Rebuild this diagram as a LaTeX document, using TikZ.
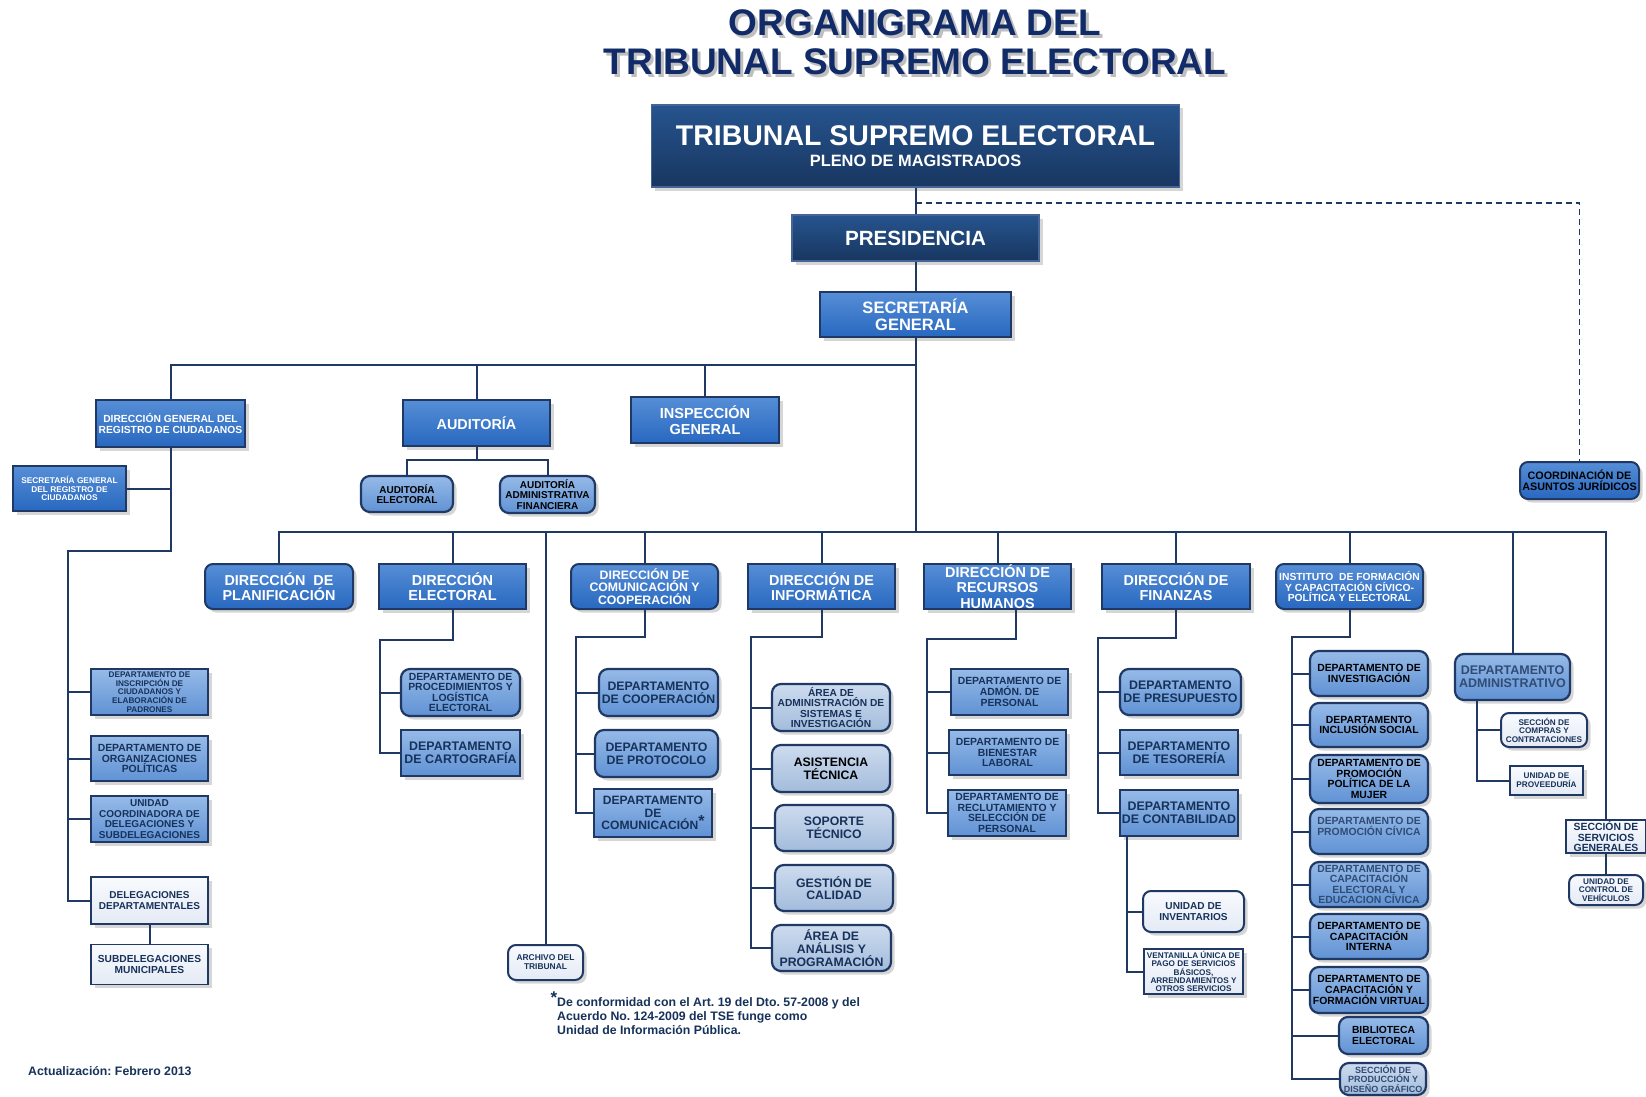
\documentclass[tikz,border=0pt]{standalone}
\usepackage{fontspec}
\setmainfont{Liberation Sans}
\usetikzlibrary{positioning,shadows,calc}
\definecolor{navyline}{RGB}{31,56,100}
\definecolor{navytext}{RGB}{23,50,90}
\definecolor{titleblue}{RGB}{17,42,104}
\definecolor{grayblue}{RGB}{48,76,116}
\definecolor{dkA}{RGB}{38,84,142}
\definecolor{dkB}{RGB}{24,54,96}
\definecolor{dkedge}{RGB}{70,100,150}
\definecolor{mdA}{RGB}{86,142,214}
\definecolor{mdB}{RGB}{40,104,192}
\definecolor{ltA}{RGB}{150,186,232}
\definecolor{ltB}{RGB}{96,146,212}
\definecolor{stA}{RGB}{205,219,238}
\definecolor{stB}{RGB}{163,188,220}
\definecolor{paleA}{RGB}{248,250,253}
\definecolor{paleB}{RGB}{228,234,245}
\newcommand{\boxfont}[2]{\fontsize{#1pt}{#2pt}\selectfont\bfseries}
\frenchspacing

\begin{document}
\begin{tikzpicture}[x=1pt, y=-1pt,
    box/.style={rectangle, inner sep=0pt, align=center, line width=1.2pt,
      draw=navyline, text=navytext,
      drop shadow={shadow xshift=3.5pt, shadow yshift=-3.5pt, fill=black!35, opacity=.45}},
    wh/.style 2 args={minimum width=#1pt, minimum height=#2pt},
    headbox/.style={box, top color=dkA, bottom color=dkB, draw=dkedge, line width=1.5pt, text=white},
    dirbox/.style={box, top color=mdA, bottom color=mdB, text=white},
    dirround/.style={dirbox, rounded corners=8pt, line width=2pt},
    deptbox/.style={box, top color=ltA, bottom color=ltB},
    deptround/.style={deptbox, rounded corners=9pt, line width=2.2pt},
    techround/.style={box, top color=stA, bottom color=stB, rounded corners=9pt, line width=2.2pt},
    palebox/.style={box, top color=paleA, bottom color=paleB},
    paleround/.style={palebox, rounded corners=8pt, line width=2pt},
    link/.style={draw=navyline, line width=2pt}]

  \path[fill=white] (0,0) rectangle (1646,1097);
  \useasboundingbox (0,0) rectangle (1646,1097);

  %% Title
  \node[font=\boxfont{37}{39}, text=black!25, align=center] (titleshadow) at (918,45.5) {ORGANIGRAMA DEL\\TRIBUNAL SUPREMO ELECTORAL};
  \node[font=\boxfont{37}{39}, text=titleblue, align=center] (title) at (915,42.5) {ORGANIGRAMA DEL\\TRIBUNAL SUPREMO ELECTORAL};

  %% Top of the tree
  \node[headbox, wh={528}{82}, font=\boxfont{28.5}{21}] (tse) at (915.5,146) {TRIBUNAL SUPREMO ELECTORAL\\{\boxfont{16.4}{21}PLENO DE MAGISTRADOS}};
  \node[headbox, wh={247}{46}, font=\boxfont{20.6}{22}] (pres) at (915.5,238) {PRESIDENCIA};
  \node[dirbox, wh={191}{45}, font=\boxfont{16.5}{17}] (sg) at (915.5,314.5) {SECRETARÍA\\GENERAL};

  \node[dirbox, wh={149}{47}, font=\boxfont{10.3}{10.6}] (dgrc) at (170.5,423.5) {DIRECCIÓN GENERAL DEL\\REGISTRO DE CIUDADANOS};
  \node[dirbox, wh={147}{46}, font=\boxfont{14.4}{15}] (aud) at (476.5,423) {AUDITORÍA};
  \node[dirbox, wh={148}{46}, font=\boxfont{14.5}{15.5}] (insp) at (705,420) {INSPECCIÓN\\GENERAL};
  \node[deptround, wh={92}{36}, font=\boxfont{10}{10.5}, text=black] (audel) at (407,494) {AUDITORÍA\\ELECTORAL};
  \node[deptround, wh={95}{37}, font=\boxfont{10}{10.5}, text=black] (audaf) at (547.5,494.5) {AUDITORÍA\\ADMINISTRATIVA\\FINANCIERA};
  \node[dirbox, wh={113}{45}, font=\boxfont{8.3}{8.8}] (sgrc) at (69.5,488.5) {SECRETARÍA GENERAL\\DEL REGISTRO DE\\CIUDADANOS};
  \node[dirround, wh={119}{37}, font=\boxfont{10.8}{11.3}, text=black] (jur) at (1579.5,480.5) {COORDINACIÓN DE\\ASUNTOS JURÍDICOS};

  %% Direcciones
  \node[dirround, wh={148}{45}, font=\boxfont{14.4}{15.5}] (plan) at (279,586.5) {DIRECCIÓN \ DE\\PLANIFICACIÓN};
  \node[dirbox, wh={147}{45}, font=\boxfont{14.5}{15.5}] (elec) at (452.5,586.5) {DIRECCIÓN\\ELECTORAL};
  \node[dirround, wh={147}{45}, font=\boxfont{12.3}{12.6}] (com) at (644.5,586.5) {DIRECCIÓN DE\\COMUNICACIÓN Y\\COOPERACIÓN};
  \node[dirbox, wh={147}{45}, font=\boxfont{14.4}{15.5}] (inf) at (821.5,586.5) {DIRECCIÓN DE\\INFORMÁTICA};
  \node[dirbox, wh={147}{45}, font=\boxfont{14.4}{15.2}] (rrhh) at (997.5,586.5) {DIRECCIÓN DE\\RECURSOS\\HUMANOS};
  \node[dirbox, wh={148}{45}, font=\boxfont{14.4}{15.5}] (fin) at (1176,586.5) {DIRECCIÓN DE\\FINANZAS};
  \node[dirround, wh={147}{45}, font=\boxfont{10.3}{10.5}] (inst) at (1349.5,586.5) {INSTITUTO \ DE FORMACIÓN\\Y CAPACITACIÓN CÍVICO-\\POLÍTICA Y ELECTORAL};

  %% Registro de ciudadanos
  \node[deptbox, wh={117}{46}, font=\boxfont{8.2}{8.6}] (insc) at (149.5,692) {DEPARTAMENTO DE\\INSCRIPCIÓN DE\\CIUDADANOS Y\\ELABORACIÓN DE\\PADRONES};
  \node[deptbox, wh={117}{45}, font=\boxfont{10.4}{10.6}] (org) at (149.5,758.5) {DEPARTAMENTO DE\\ORGANIZACIONES\\POLÍTICAS};
  \node[deptbox, wh={117}{46}, font=\boxfont{10}{10.6}] (ucd) at (149.5,819) {UNIDAD\\COORDINADORA DE\\DELEGACIONES Y\\SUBDELEGACIONES};
  \node[palebox, wh={117}{47}, font=\boxfont{10}{10.6}] (deleg) at (149.5,900.5) {DELEGACIONES\\DEPARTAMENTALES};
  \node[palebox, wh={117}{40}, font=\boxfont{10.2}{10.6}, below=19pt of deleg] (subd) {SUBDELEGACIONES\\MUNICIPALES};

  %% Electoral, comunicacion
  \node[deptround, wh={119}{47}, font=\boxfont{10.4}{10.5}] (proc) at (460.5,692.5) {DEPARTAMENTO DE\\PROCEDIMIENTOS Y\\LOGÍSTICA\\ELECTORAL};
  \node[deptbox, wh={119}{46}, font=\boxfont{12.4}{12.6}] (cart) at (460.5,753) {DEPARTAMENTO\\DE CARTOGRAFÍA};
  \node[deptround, wh={119}{47}, font=\boxfont{12.3}{12.8}] (coop) at (658.5,692.5) {DEPARTAMENTO\\DE COOPERACIÓN};
  \node[deptround, wh={123}{47}, font=\boxfont{12.3}{12.8}] (prot) at (656.5,753.5) {DEPARTAMENTO\\DE PROTOCOLO};
  \node[deptbox, wh={118}{48}, font=\boxfont{12.1}{12.4}] (comu) at (653,813) {DEPARTAMENTO\\DE\\COMUNICACIÓN\smash{\raisebox{3.5pt}{\boxfont{16}{16}*}}};
  \node[paleround, wh={75}{35}, font=\boxfont{8.4}{9}] (arch) at (545.5,962.5) {ARCHIVO DEL\\TRIBUNAL};

  %% Informatica
  \node[techround, wh={118}{47}, font=\boxfont{10.2}{10.5}] (asi) at (831,707.5) {ÁREA DE\\ADMINISTRACIÓN DE\\SISTEMAS E\\INVESTIGACIÓN};
  \node[techround, wh={118}{47}, font=\boxfont{12.3}{12.6}, text=black] (ast) at (831,768.5) {ASISTENCIA\\TÉCNICA};
  \node[techround, wh={118}{46}, font=\boxfont{12.3}{12.6}] (sop) at (834,828) {SOPORTE\\TÉCNICO};
  \node[techround, wh={118}{46}, font=\boxfont{12.3}{12.6}] (ges) at (834,888) {GESTIÓN DE\\CALIDAD};
  \node[techround, wh={119}{46}, font=\boxfont{12.3}{12.6}] (ana) at (831.5,948) {ÁREA DE\\ANÁLISIS Y\\PROGRAMACIÓN};

  %% Recursos humanos, finanzas
  \node[deptbox, wh={117}{46}, font=\boxfont{10.4}{10.8}] (adp) at (1009.5,692) {DEPARTAMENTO DE\\ADMÓN. DE\\PERSONAL};
  \node[deptbox, wh={117}{45}, font=\boxfont{10.4}{10.8}] (bie) at (1007.5,752.5) {DEPARTAMENTO DE\\BIENESTAR\\LABORAL};
  \node[deptbox, wh={118}{46}, font=\boxfont{10.4}{10.5}] (rec) at (1007,813) {DEPARTAMENTO DE\\RECLUTAMIENTO Y\\SELECCIÓN DE\\PERSONAL};
  \node[deptround, wh={121}{46}, font=\boxfont{12.4}{13}] (pre) at (1180.5,692) {DEPARTAMENTO\\DE PRESUPUESTO};
  \node[deptbox, wh={118}{45}, font=\boxfont{12.4}{13}] (tes) at (1179,752.5) {DEPARTAMENTO\\DE TESORERÍA};
  \node[deptbox, wh={118}{46}, font=\boxfont{12.4}{13}] (con) at (1179,813) {DEPARTAMENTO\\DE CONTABILIDAD};
  \node[paleround, wh={101}{41}, font=\boxfont{10.1}{10.6}] (inv) at (1193.5,911.5) {UNIDAD DE\\INVENTARIOS};
  \node[palebox, wh={99}{45}, font=\boxfont{8.2}{8.4}] (ven) at (1193.5,971.5) {VENTANILLA ÚNICA DE\\PAGO DE SERVICIOS\\BÁSICOS,\\ARRENDAMIENTOS Y\\OTROS SERVICIOS};

  %% Instituto
  \node[deptround, wh={118}{45}, font=\boxfont{10.4}{10.6}, text=black] (ainv) at (1369,673.5) {DEPARTAMENTO DE\\INVESTIGACIÓN};
  \node[deptround, wh={118}{44}, font=\boxfont{10.4}{10.6}, text=black] (ainc) at (1369,725) {DEPARTAMENTO\\INCLUSIÓN SOCIAL};
  \node[deptround, wh={118}{48}, font=\boxfont{10.4}{10.6}, text=black] (amuj) at (1369,779) {DEPARTAMENTO DE\\PROMOCIÓN\\POLÍTICA DE LA\\MUJER};
  \node[deptround, wh={118}{45}, font=\boxfont{10.4}{10.6}, text=grayblue] (apci) at (1369,831.5) {DEPARTAMENTO DE\\PROMOCIÓN CÍVICA\\\mbox{}};
  \node[deptround, wh={118}{45}, font=\boxfont{10.4}{10.6}, text=grayblue] (acee) at (1369,884.5) {DEPARTAMENTO DE\\CAPACITACIÓN\\ELECTORAL Y\\EDUCACION CÍVICA};
  \node[deptround, wh={118}{45}, font=\boxfont{10.4}{10.6}, text=black] (acin) at (1369,936.5) {DEPARTAMENTO DE\\CAPACITACIÓN\\INTERNA};
  \node[deptround, wh={118}{46}, font=\boxfont{10.4}{10.6}, text=black] (afv) at (1369,990) {DEPARTAMENTO DE\\CAPACITACIÓN Y\\FORMACIÓN VIRTUAL};
  \node[deptround, wh={89}{37}, font=\boxfont{10.3}{10.8}, text=black] (bib) at (1383.5,1035.5) {BIBLIOTECA\\ELECTORAL};
  \node[techround, wh={86}{32}, font=\boxfont{9}{9.6}, text=grayblue] (prod) at (1383,1079) {SECCIÓN DE\\PRODUCCIÓN Y\\DISEÑO GRÁFICO};

  %% Administrativo, servicios
  \node[deptround, wh={115}{46}, font=\boxfont{12.5}{13}, text=grayblue] (adm) at (1512.5,677) {DEPARTAMENTO\\ADMINISTRATIVO};
  \node[paleround, wh={86}{34}, font=\boxfont{8.2}{8.6}] (cmp) at (1544,730) {SECCIÓN DE\\COMPRAS Y\\CONTRATACIONES};
  \node[palebox, wh={73}{29}, font=\boxfont{8.2}{9}] (prv) at (1546.5,780.5) {UNIDAD DE\\PROVEEDURÍA};
  \node[palebox, wh={80}{33}, font=\boxfont{10.4}{10.4}] (ssg) at (1606,836.5) {SECCIÓN DE\\SERVICIOS\\GENERALES};
  \node[paleround, wh={74}{30}, font=\boxfont{8.2}{8.6}] (veh) at (1606,890) {UNIDAD DE\\CONTROL DE\\VEHÍCULOS};

  %% Notes
  \node[anchor=north west, align=left, inner sep=0pt, font=\boxfont{12.3}{14}\frenchspacing, text=navytext] (nota) at (557,997.5) {\llap{\smash{\raisebox{3pt}{\boxfont{17}{17}*}}}De conformidad con el Art. 19 del Dto. 57-2008 y del\\Acuerdo No. 124-2009 del TSE funge como\\Unidad de Información Pública.};
  \node[anchor=west, inner sep=0pt, font=\boxfont{12.3}{13}\frenchspacing, text=navytext] (fecha) at (28,1071) {Actualización: Febrero 2013};

  %% Junctions
  \coordinate (dj) at (915.5,203);
  \coordinate (tb) at (915.5,365);
  \coordinate (mb) at (915.5,532);
  \coordinate (audj) at (476.5,460);
  \coordinate (dgj) at (68,551);
  \coordinate (elj) at (380,640);
  \coordinate (coj) at (576,637);
  \coordinate (ifj) at (751,637);
  \coordinate (rhj) at (927,639);
  \coordinate (fij) at (1098,638);
  \coordinate (inj) at (1292,637);

  %% Connectors
  \path [link] (tse) -- (pres);
  \path [link] (pres) -- (sg);
  \path [link] (sg.south) -- (mb);
  \path [link, line width=1.6pt, dash pattern=on 6pt off 4pt] (dj) -| (jur.north);
  \foreach \n in {dgrc,aud,insp}
    \path [link] (tb) -| (\n.north);
  \path [link] (aud.south) -- (audj);
  \path [link] (audj) -| (audel.north);
  \path [link] (audj) -| (audaf.north);
  \path [link] (dgrc.south |- sgrc.east) -- (sgrc.east);
  \path [link] (dgrc.south) |- (dgj) |- (deleg.west);
  \foreach \n in {insc,org,ucd}
    \path [link] (dgj) |- (\n.west);
  \path [link] (deleg) -- (subd);
  \foreach \n in {plan,elec,arch,com,inf,rrhh,fin,inst,adm,ssg}
    \path [link] (mb) -| (\n.north);
  \path [link] (elec.south) |- (elj) |- (cart.west);
  \path [link] (elj) |- (proc.west);
  \path [link] (com.south) |- (coj) |- (comu.west);
  \foreach \n in {coop,prot}
    \path [link] (coj) |- (\n.west);
  \path [link] (inf.south) |- (ifj) |- (ana.west);
  \foreach \n in {asi,ast,sop,ges}
    \path [link] (ifj) |- (\n.west);
  \path [link] ([xshift=18pt]rrhh.south) |- (rhj) |- (rec.west);
  \foreach \n in {adp,bie}
    \path [link] (rhj) |- (\n.west);
  \path [link] (fin.south) |- (fij) |- (con.west);
  \foreach \n in {pre,tes}
    \path [link] (fij) |- (\n.west);
  \path [link] ([xshift=8pt]con.south west) |- (ven.west);
  \path [link] ([xshift=8pt]con.south west) |- (inv.west);
  \path [link] (inst.south) |- (inj) |- (prod.west);
  \foreach \n in {ainv,ainc,amuj,apci,acee,acin,afv,bib}
    \path [link] (inj) |- (\n.west);
  \path [link] ([xshift=23pt]adm.south west) |- (prv.west);
  \path [link] ([xshift=23pt]adm.south west) |- (cmp.west);
  \path [link] (ssg) -- (veh);
\end{tikzpicture}
\end{document}
